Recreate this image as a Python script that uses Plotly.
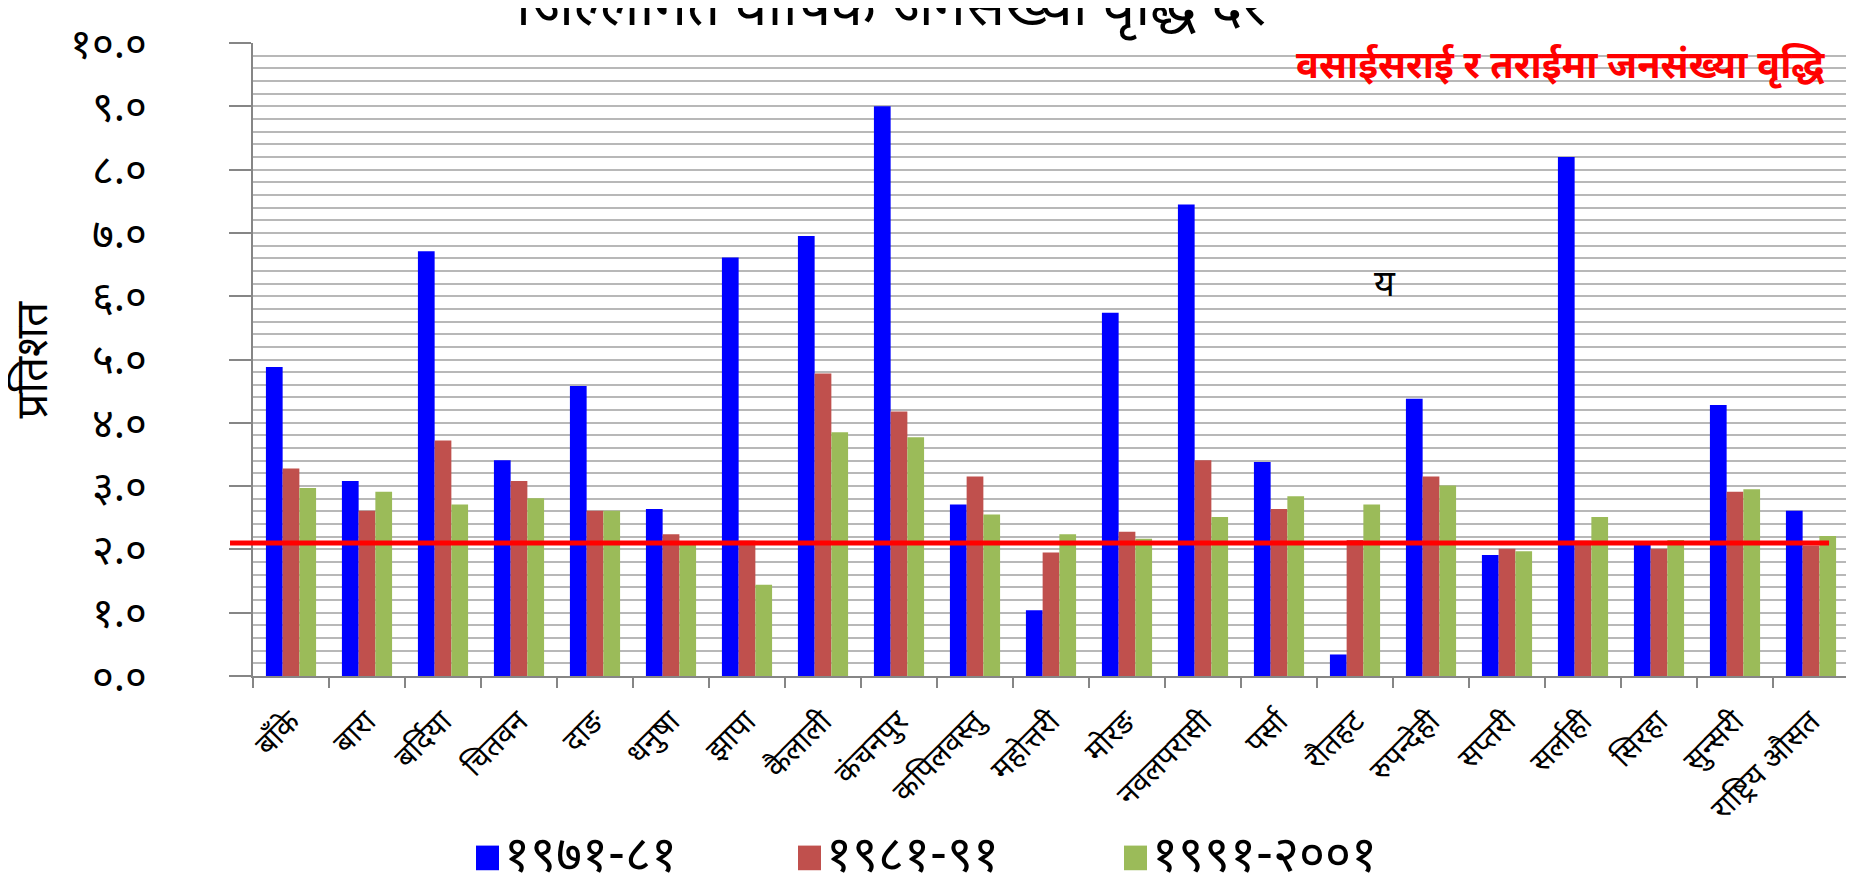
import plotly.graph_objects as go

categories = ["बाँके", "बारा", "बर्दिया", "चितवन", "दाङ", "धनुषा", "झापा", "कैलाली", "कंचनपुर",
              "कपिलवस्तु", "महोत्तरी", "मोरङ", "नवलपरासी", "पर्सा", "रौतहट", "रुपन्देही", "सप्तरी",
              "सर्लाही", "सिरहा", "सुन्सरी", "राष्ट्रिय औसत"]

series_names = ["१९७१-८१", "१९८१-९१", "१९९१-२००१"]

v_1971_81 = [4.88, 3.08, 6.71, 3.41, 4.58, 2.64, 6.61, 6.95, 9.00, 2.71, 1.04,
             5.74, 7.45, 3.38, 0.34, 4.38, 1.91, 8.20, 2.08, 4.28, 2.61]
v_1981_91 = [3.28, 2.61, 3.72, 3.08, 2.61, 2.24, 2.14, 4.78, 4.18, 3.15, 1.95,
             2.28, 3.41, 2.64, 2.15, 3.15, 2.01, 2.14, 2.01, 2.91, 2.06]
v_1991_01 = [2.97, 2.91, 2.71, 2.81, 2.61, 2.12, 1.44, 3.85, 3.77, 2.55, 2.24,
             2.17, 2.51, 2.84, 2.71, 3.01, 1.97, 2.51, 2.15, 2.95, 2.21]

colors = ["#0000FF", "#C0504D", "#9BBB59"]

y_tickvals = [0, 1, 2, 3, 4, 5, 6, 7, 8, 9, 10]
y_ticktext = ["०.०", "१.०", "२.०", "३.०", "४.०", "५.०", "६.०", "७.०", "८.०", "९.०", "१०.०"]

ref_line_value = 2.1
title_text = "जिल्लागत वार्षिक जनसंख्या वृद्धि दर"
note_text = "वसाईसराई र तराईमा जनसंख्या वृद्धि"
marker_text = "य"
y_title = "प्रतिशत"

FONT = "Noto Sans Devanagari, Lohit Devanagari, Mangal, Noto Sans, sans-serif"

fig = go.Figure()
for name, vals, col in zip(series_names, [v_1971_81, v_1981_91, v_1991_01], colors):
    fig.add_trace(go.Bar(x=categories, y=vals, name=name, marker_color=col,
                         marker_line_width=0, showlegend=False))

fig.update_layout(
    width=1854, height=894,
    margin=dict(l=245, r=13, t=26, b=226),
    paper_bgcolor="white", plot_bgcolor="white",
    barmode="group", bargap=0.34, bargroupgap=0,
    font=dict(family=FONT, color="black"),
)

fig.update_yaxes(
    range=[0, 10], tickvals=y_tickvals, ticktext=y_ticktext,
    tickfont=dict(size=42, family=FONT, color="black"),
    showgrid=True, gridcolor="#B8B8B8", gridwidth=1.8,
    minor=dict(dtick=0.2, showgrid=True, gridcolor="#B8B8B8", gridwidth=1.8),
    ticks="outside", ticklen=22, tickcolor="#868686", tickwidth=1.5,
    showline=True, linecolor="#868686", linewidth=1.5,
    ticklabelstandoff=74, zeroline=False,
)
fig.update_xaxes(
    tickangle=-45, tickfont=dict(size=30, family=FONT, color="black"),
    ticks="outside", tickson="boundaries", ticklen=10, tickcolor="#868686", tickwidth=1.5,
    showline=True, linecolor="#868686", linewidth=1.5, showgrid=False,
    ticklabelstandoff=14,
)

# reference line
fig.add_shape(type="line", xref="paper", yref="y", x0=-0.0144, x1=0.9875,
              y0=ref_line_value, y1=ref_line_value, line=dict(color="#FF0000", width=5))

# title (clipped at top as in reference)
fig.add_annotation(text=title_text, xref="paper", yref="paper", x=0.40, y=1.05,
                   xanchor="center", yanchor="middle", showarrow=False,
                   font=dict(size=58, family=FONT, color="black"))
# red note
fig.add_annotation(text="<b>" + note_text + "</b>", xref="paper", yref="y", x=0.652, y=9.59,
                   xanchor="left", yanchor="middle", showarrow=False,
                   font=dict(size=38, family=FONT, color="#FF0000"))
# stray letter
fig.add_annotation(text=marker_text, xref="paper", yref="y", x=0.709, y=6.13,
                   xanchor="center", yanchor="middle", showarrow=False,
                   font=dict(size=36, family=FONT, color="black"))
# y-axis title
fig.add_annotation(text=y_title, xref="paper", yref="y", x=-0.136, y=5.0,
                   xanchor="center", yanchor="middle", showarrow=False, textangle=-90,
                   font=dict(size=44, family=FONT, color="black"))

# custom legend
leg_x = [468, 790, 1116]
for px, name, col in zip(leg_x, series_names, colors):
    x0 = (px - 245) / 1596
    x1 = (px + 23 - 245) / 1596
    y0 = (668 - 865) / 642
    y1 = (668 - 840) / 642
    fig.add_shape(type="rect", xref="paper", yref="paper", x0=x0, x1=x1, y0=y0, y1=y1,
                  fillcolor=col, line=dict(width=0))
    fig.add_annotation(text=name, xref="paper", yref="paper", x=(px + 26 - 245) / 1596,
                       y=(668 - 853) / 642, xanchor="left", yanchor="middle", showarrow=False,
                       font=dict(size=50, family=FONT, color="black"))

fig.write_html("out.html")
